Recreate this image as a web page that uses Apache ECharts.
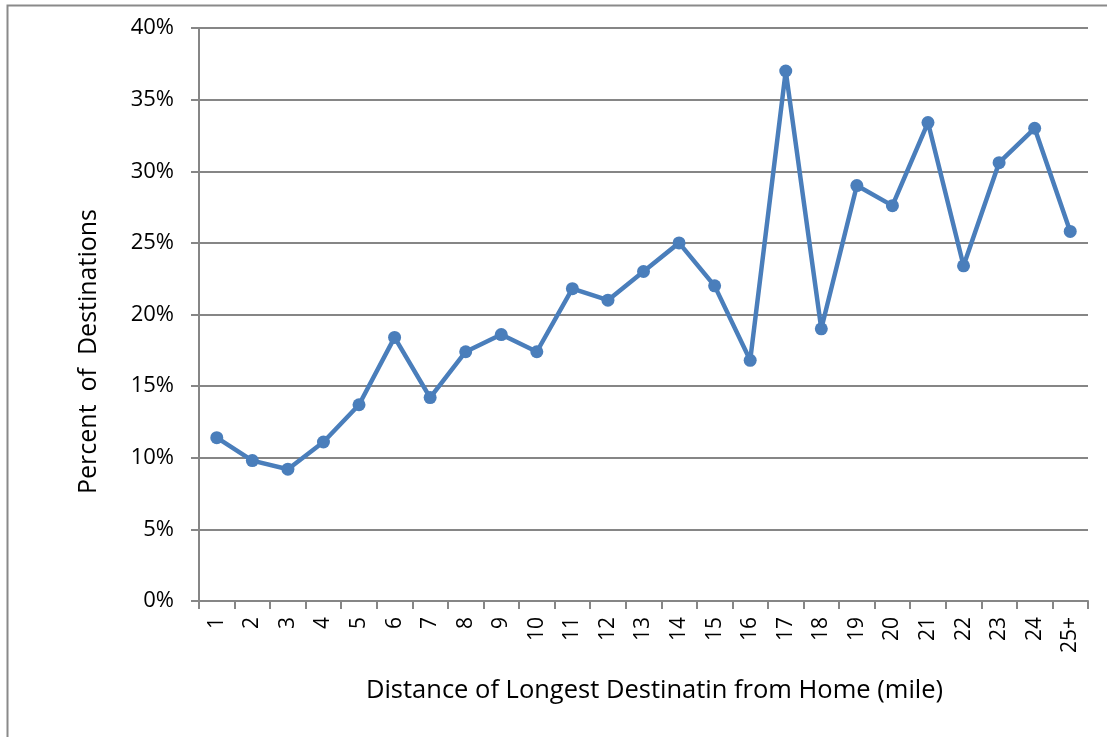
<!DOCTYPE html>
<html>
<head>
<meta charset="utf-8">
<script src="https://cdn.jsdelivr.net/npm/echarts@6/dist/echarts.min.js"></script>
<style>
  html, body { margin: 0; padding: 0; background: #fff; }
  #chart { width: 1107px; height: 737px; }
</style>
</head>
<body>
<div id="chart"></div>
<script>
// distance buckets (mile)
const categories = ['1', '2', '3', '4', '5', '6', '7', '8', '9', '10', '11', '12', '13',
  '14', '15', '16', '17', '18', '19', '20', '21', '22', '23', '24', '25+']
// percent of destinations
const percents = [11.4, 9.8, 9.2, 11.1, 13.7, 18.4, 14.2, 17.4, 18.6, 17.4, 21.8, 21.0, 23.0,
  25.0, 22.0, 16.8, 37.0, 19.0, 29.0, 27.6, 33.4, 23.4, 30.6, 33.0, 25.8]
const yTicks = [0, 5, 10, 15, 20, 25, 30, 35, 40]

const font = 'Open Sans, Liberation Sans, sans-serif'
const axisGray = '#868686'

const chart = echarts.init(document.getElementById('chart'))

chart.setOption({
  animation: false,
  graphic: [{
    type: 'rect',
    shape: { x: 7.5, y: 5.5, width: 1120, height: 750 },
    style: { fill: 'none', stroke: '#8a8a8a', lineWidth: 2 }
  }],
  grid: { left: 199, right: 19, top: 28, bottom: 136, containLabel: false },
  xAxis: {
    type: 'category',
    data: categories,
    boundaryGap: true,
    name: 'Distance of Longest Destinatin from Home (mile)',
    nameLocation: 'middle',
    nameGap: 77,
    nameTextStyle: { fontFamily: font, fontSize: 25.5, color: '#000', padding: [0, 0, 0, 22] },
    axisLine: { lineStyle: { color: axisGray, width: 2 } },
    axisTick: { show: true, length: 8, alignWithLabel: false, lineStyle: { color: axisGray, width: 2 } },
    axisLabel: { rotate: 90, margin: 16, fontFamily: font, fontSize: 21, color: '#000', interval: 0 },
    splitLine: { show: false }
  },
  yAxis: {
    type: 'value',
    min: yTicks[0],
    max: yTicks[yTicks.length - 1],
    interval: 5,
    name: 'Percent  of  Destinations',
    nameLocation: 'middle',
    nameGap: 98,
    // the title sits a bit below the axis middle in the original
    nameTextStyle: { fontFamily: font, fontSize: 25, color: '#000', padding: [0, 74, 0, 0] },
    axisLine: { show: true, lineStyle: { color: axisGray, width: 2 } },
    axisTick: { show: true, length: 8, lineStyle: { color: axisGray, width: 2 } },
    axisLabel: { formatter: '{value}%', margin: 25, fontFamily: font, fontSize: 22, color: '#000' },
    splitLine: { lineStyle: { color: axisGray, width: 2 } }
  },
  series: [{
    type: 'line',
    data: percents,
    symbol: 'circle',
    symbolSize: 13,
    lineStyle: { color: '#4a7ebb', width: 4.5 },
    itemStyle: { color: '#4a7ebb' }
  }]
})
</script>
</body>
</html>
